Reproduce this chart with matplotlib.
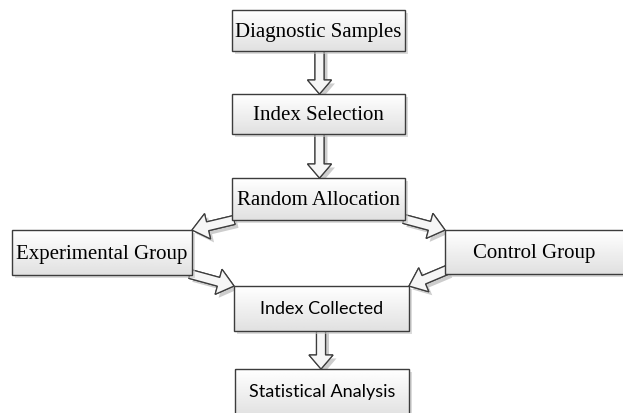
import numpy as np
import matplotlib.pyplot as plt
from matplotlib.patches import Rectangle, FancyArrow
import matplotlib.patheffects as pe

# flowchart steps
labels = ["Diagnostic Samples", "Index Selection", "Random Allocation",
          "Experimental Group", "Control Group", "Index Collected",
          "Statistical Analysis"]
serif_steps = labels[:5]
# edges between steps (from, to)
links = [(0, 1), (1, 2), (2, 3), (2, 4), (3, 5), (4, 5), (5, 6)]

# layout in pixels (x0, y0, x1, y1), y down
boxes = {
    0: (232, 11, 405, 52),
    1: (232, 95, 405, 135),
    2: (232, 179, 405, 221),
    3: (12, 231, 192, 276),
    4: (445, 231, 627, 275),
    5: (234, 287, 409, 332),
    6: (235, 370, 409, 418),
}
# text centre override (box partly off canvas)
text_pos = {4: (534, 253), 6: (322, 392)}
# arrow tail / tip for each link
arrow_pts = {
    (0, 1): ((319.5, 50), (319.5, 95)),
    (1, 2): ((319.5, 133), (319.5, 179)),
    (2, 3): ((234, 221), (192, 231)),
    (2, 4): ((404, 220), (445, 231)),
    (3, 5): ((190, 275), (234, 287)),
    (4, 5): ((447, 271), (409, 287)),
    (5, 6): ((321, 330), (321, 370)),
}

fig = plt.figure(figsize=(6.23, 4.14), dpi=100)
ax = fig.add_axes([0, 0, 1, 1])
ax.set_xlim(0, 623)
ax.set_ylim(414, 0)
ax.axis('off')

grad = np.linspace(1.0, 0.88, 64).reshape(-1, 1)
shadow = [pe.withSimplePatchShadow(offset=(2.5, -2.5), shadow_rgbFace='#909090', alpha=0.45), pe.Normal()]

for link in links:
    (x0, y0), (x1, y1) = arrow_pts[link]
    vertical = x0 == x1
    ar = FancyArrow(x0, y0, x1 - x0, y1 - y0, width=9,
                    head_width=24 if vertical else 26,
                    head_length=14 if vertical else 16,
                    length_includes_head=True, facecolor='#f6f6f6',
                    edgecolor='#3c3c3c', linewidth=0.9, zorder=1)
    ar.set_path_effects(shadow)
    ax.add_patch(ar)

for i, name in enumerate(labels):
    x0, y0, x1, y1 = boxes[i]
    sh = Rectangle((x0 + 3, y0 + 3), x1 - x0, y1 - y0, facecolor='#c4c4c4',
                   edgecolor='none', alpha=0.6, zorder=2)
    ax.add_patch(sh)
    ax.imshow(grad, cmap='gray', vmin=0, vmax=1, aspect='auto',
              extent=[x0, x1, y1, y0], zorder=3)
    ax.add_patch(Rectangle((x0, y0), x1 - x0, y1 - y0, facecolor='none',
                           edgecolor='#3c3c3c', linewidth=1.0, zorder=4))
    cx, cy = text_pos.get(i, ((x0 + x1) / 2, (y0 + y1) / 2))
    if name in serif_steps:
        ax.text(cx, cy + 1, name, ha='center', va='center', fontsize=15,
                family='Liberation Serif', color='black', zorder=5)
    else:
        ax.text(cx, cy, name, ha='center', va='center', fontsize=13,
                family='Lato', color='black', zorder=5)

ax.set_xlim(0, 623)
ax.set_ylim(414, 0)
fig.savefig('out.png', dpi=100)
